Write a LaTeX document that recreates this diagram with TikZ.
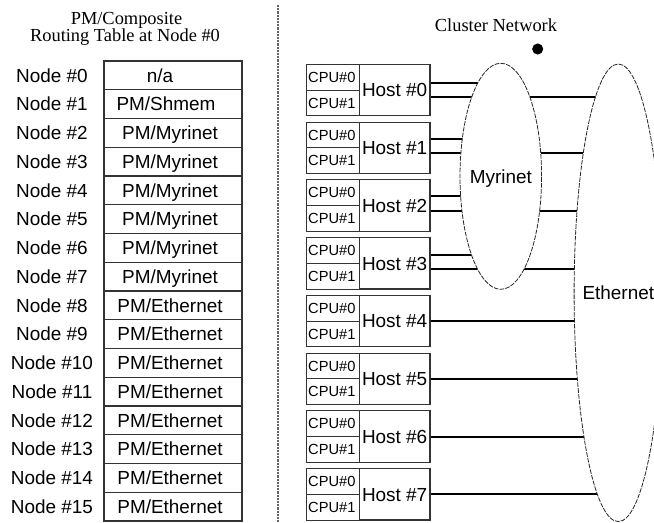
\documentclass[tikz,border=0pt]{standalone}
\usepackage{fontspec}
\setmainfont{Liberation Sans}
\newfontfamily\titlefont{Liberation Serif}
\usetikzlibrary{calc,backgrounds,shapes.geometric}
\begin{document}
\begin{tikzpicture}[x=0.75pt,y=-0.75pt,
  lbl/.style={inner sep=0pt, font=\fontsize{14.2pt}{17pt}\selectfont, text height=10.2pt, text depth=0pt},
  ttl/.style={inner sep=0pt, anchor=base, font=\titlefont\fontsize{13.8pt}{16pt}\selectfont},
  cell/.style={draw=black!80, line width=0.8pt, minimum width=103.5pt, minimum height=21.56pt, inner sep=0pt},
  hostbox/.style={draw=black!80, line width=0.8pt, minimum width=53.0pt, minimum height=38.6pt, inner sep=0pt,
    font=\fontsize{14.2pt}{17pt}\selectfont, text height=10.2pt, text depth=0pt},
  cpubox/.style={draw=black!80, line width=0.8pt, text width=37.2pt, inner xsep=1.1pt, inner ysep=0pt, align=left,
    minimum height=19.31pt, font=\fontsize{11pt}{12pt}\selectfont, text height=7.9pt, text depth=0pt},
  net/.style={ellipse, draw=black!85, fill=white, line width=0.6pt, dash pattern=on 3.5pt off 0.9pt, inner sep=0pt},
  link/.style={draw=black, line width=1.5pt},
  divider/.style={draw=black!60, line width=1.2pt, dash pattern=on 1.6pt off 0.8pt}]
\useasboundingbox (0,0) rectangle (654,523);

% routing table
\node[ttl] (t1) at (126.5,25) {PM/Composite};
\node[ttl] (t2) at (125,41.5) {Routing Table at Node \#0};
\foreach \i in {0,...,15}{
  \pgfmathsetmacro\yy{75.375+28.75*\i}
  \pgfmathsetmacro\vx{\i==0 ? 160 : (\i==1 ? 166 : 170)}
  \node[cell] (r\i) at (173,\yy) {};
  \node[lbl] (n\i) at (52,\yy) {Node \#\i};
  \node[lbl] (v\i) at (\vx,\yy) {\ifnum\i=0 n/a\else\ifnum\i=1 PM/Shmem\else\ifnum\i<8 PM/Myrinet\else PM/Ethernet\fi\fi\fi};
}

% divider
\draw[divider] (277.7,5) -- (277.7,523);

% cluster network
\node[ttl] (cn) at (496,31.5) {Cluster Network};
\node[circle, fill=black, minimum size=8.3pt, inner sep=0pt] (dot) at (537.7,49) {};

\node[net, minimum width=61.2pt, minimum height=169.5pt] (myri) at (500.8,176.3) {};
\node[lbl] (myrilbl) at (myri.center) {Myrinet};
\node[net, minimum width=66.3pt, minimum height=343.2pt] (eth) at (618.3,292.8) {};
\node[lbl] (ethlbl) at (eth.center) {Ethernet};

% hosts
\foreach \i in {0,...,7}{
  \pgfmathsetmacro\tt{64.3+57.75*\i}
  \node[hostbox] (h\i) at (394.65,\tt+25.75) {Host \#\i};
  \node[cpubox] (ca\i) at (333,\tt+12.875) {CPU\#0};
  \node[cpubox] (cb\i) at (333,\tt+38.625) {CPU\#1};
}

\begin{scope}[on background layer]
  \foreach \i/\yu/\yl in {0/83.3/97.5, 1/139/153.3, 2/196/210.7, 3/255/269.2}{
    \coordinate (u\i) at (h\i.east |- 0,\yu);
    \coordinate (l\i) at (h\i.east |- 0,\yl);
    \draw[link] (u\i) -- (u\i -| myri.center);
    \draw[link] (l\i) -- (l\i -| eth.center);
  }
  \foreach \i in {4,...,7}{
    \draw[link] (h\i.east) -- (h\i.east -| eth.center);
  }
\end{scope}
\end{tikzpicture}
\end{document}
